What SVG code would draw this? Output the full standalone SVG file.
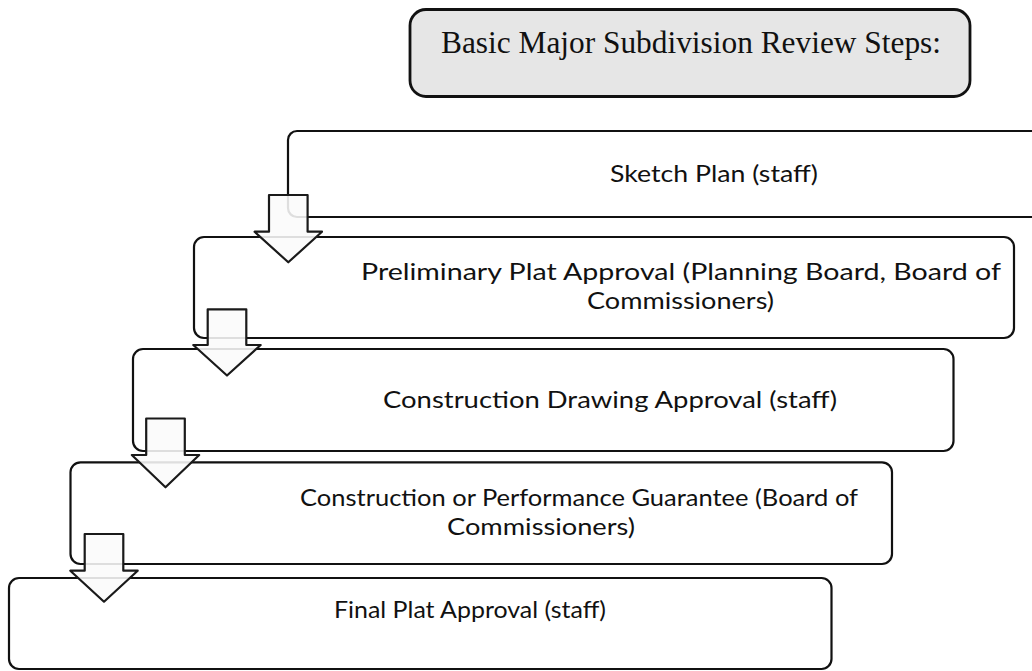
<svg xmlns="http://www.w3.org/2000/svg" width="1032" height="671" viewBox="0 0 1032 671">
<defs>
<style>
.box{fill:#ffffff;stroke:#111111;stroke-width:2.2}
.title{fill:#e6e6e6;stroke:#111111;stroke-width:2.8}
.arrow{fill:#fbfbfb;fill-opacity:0.88;stroke:#1a1a1a;stroke-width:2.2;stroke-linejoin:round}
.t{font-family:Lato,"Liberation Sans",sans-serif;font-size:23px;fill:#111111}
.tt{font-family:"Liberation Serif","Times New Roman",serif;font-size:31px;fill:#111111}
</style>
</defs>
<rect width="1032" height="671" fill="#ffffff"/>
<g id="title">
<rect class="title" x="410" y="9.5" width="560" height="87" rx="16"/>
<text class="tt" x="441" y="52.5" textLength="500" lengthAdjust="spacingAndGlyphs">Basic Major Subdivision Review Steps:</text>
</g>
<g id="step1">
<rect class="box" x="288" y="131" width="850" height="86" rx="9"/>
<text class="t" x="610" y="182" textLength="208" lengthAdjust="spacingAndGlyphs">Sketch Plan (staff)</text>
</g>
<g id="step2">
<rect class="box" x="194" y="237" width="820" height="101" rx="10"/>
<text class="t" x="361" y="280" textLength="640" lengthAdjust="spacingAndGlyphs">Preliminary Plat Approval (Planning Board, Board of</text>
<text class="t" x="587" y="309" textLength="187" lengthAdjust="spacingAndGlyphs">Commissioners)</text>
</g>
<g id="step3">
<rect class="box" x="133" y="349" width="820.5" height="102" rx="10"/>
<text class="t" x="383" y="408" textLength="454" lengthAdjust="spacingAndGlyphs">Construction Drawing Approval (staff)</text>
</g>
<g id="step4">
<rect class="box" x="70.5" y="462.3" width="821.5" height="101.7" rx="10"/>
<text class="t" x="300" y="506" textLength="558" lengthAdjust="spacingAndGlyphs">Construction or Performance Guarantee (Board of</text>
<text class="t" x="447" y="535" textLength="188" lengthAdjust="spacingAndGlyphs">Commissioners)</text>
</g>
<g id="step5">
<rect class="box" x="9" y="578" width="822.5" height="91" rx="10"/>
<text class="t" x="334" y="618" textLength="272" lengthAdjust="spacingAndGlyphs">Final Plat Approval (staff)</text>
</g>
<g id="connectors">
<path class="arrow" d="M269,195 H307.6 V231.7 H322 L288.3,262.3 L254.6,231.7 H269 Z"/>
<path class="arrow" d="M207.7,309.3 H246.3 V345 H260.7 L227,375.5 L193.3,345 H207.7 Z"/>
<path class="arrow" d="M146.2,418.5 H184.8 V455 H199.2 L165.5,487.3 L131.8,455 H146.2 Z"/>
<path class="arrow" d="M84.7,534 H123.3 V570.7 H137.7 L104,601.7 L70.3,570.7 H84.7 Z"/>
</g>
</svg>
